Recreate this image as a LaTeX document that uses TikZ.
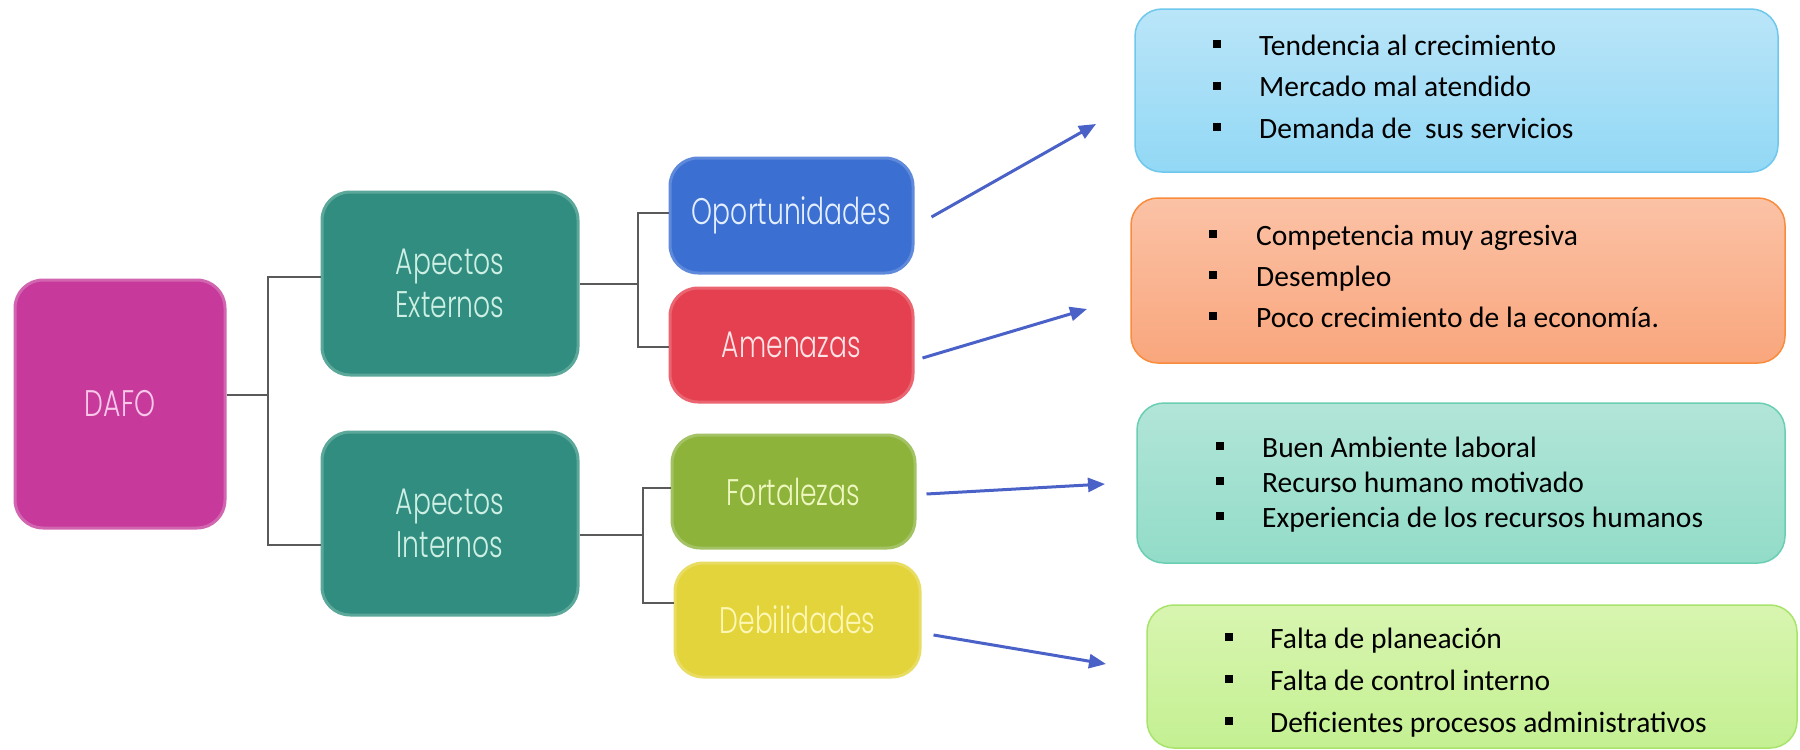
\documentclass[tikz,border=0pt]{standalone}
\usepackage{fontspec}
\setmainfont{Carlito}
\newfontfamily\boxfont{Poppins}[FakeStretch=0.72, UprightFont=* Light]
\usetikzlibrary{arrows.meta}

% box colours: fill, border, text
\definecolor{dafoF}{HTML}{C7399A}\definecolor{dafoB}{HTML}{D265B0}\definecolor{dafoT}{HTML}{F7C8EA}
\definecolor{apF}{HTML}{318D7F}\definecolor{apB}{HTML}{5BA89B}\definecolor{apT}{HTML}{CDEFE4}
\definecolor{opF}{HTML}{3C6FD2}\definecolor{opB}{HTML}{5F89DA}\definecolor{opT}{HTML}{E3EEFF}
\definecolor{amF}{HTML}{E5404F}\definecolor{amB}{HTML}{EA6570}\definecolor{amT}{HTML}{FCE4E6}
\definecolor{foF}{HTML}{8DB33B}\definecolor{foB}{HTML}{A3C264}\definecolor{foT}{HTML}{EEF7C0}
\definecolor{deF}{HTML}{E2D43A}\definecolor{deB}{HTML}{E8DD62}\definecolor{deT}{HTML}{FFF7B5}
% detail boxes: top, bottom, border
\definecolor{b1t}{HTML}{BAE5F8}\definecolor{b1b}{HTML}{92D8F5}\definecolor{b1d}{HTML}{6EC8EE}
\definecolor{b2t}{HTML}{FBC2A6}\definecolor{b2b}{HTML}{F9A67C}\definecolor{b2d}{HTML}{F98C3C}
\definecolor{b3t}{HTML}{B2E5D8}\definecolor{b3b}{HTML}{92DCC8}\definecolor{b3d}{HTML}{6ACFB2}
\definecolor{b4t}{HTML}{D8F5B0}\definecolor{b4b}{HTML}{C4F092}\definecolor{b4d}{HTML}{A8E46C}
\definecolor{connC}{HTML}{5A5A5A}
\definecolor{arrC}{HTML}{4A62C8}

% square bullet followed by the item gap
\newcommand\sqbul[1]{\makebox[#1][l]{\rule[7pt]{8pt}{8pt}}}

\begin{document}
\begin{tikzpicture}[x=1pt,y=-1pt,
  lbox/.style={rounded corners=28pt, line width=3pt, inner sep=0pt, align=center,
    font=\boxfont\fontsize{37}{43}\selectfont},
  rbox/.style={rounded corners=27pt, line width=1.5pt, inner sep=0pt},
  item/.style={inner sep=0pt, anchor=base west, font=\fontsize{29.5}{35}\selectfont, text=black},
  conn/.style={draw=connC, line width=2pt},
  arr/.style={draw=arrC, line width=3pt, -{Triangle[length=17pt,width=14pt]}}]

\useasboundingbox (0,0) rectangle (1800,750);
\fill[white] (0,0) rectangle (1800,750);

% tree of boxes
\node[lbox, fill=dafoF, draw=dafoB, text=dafoT, minimum width=210pt, minimum height=248pt] (dafo) at (120,404) {DAFO};
\node[lbox, fill=apF, draw=apB, text=apT, minimum width=256pt, minimum height=183pt] (ae) at (450,283.5) {Apectos\\Externos};
\node[lbox, fill=apF, draw=apB, text=apT, minimum width=256pt, minimum height=183pt] (ai) at (450,523.5) {Apectos\\Internos};
\node[lbox, fill=opF, draw=opB, text=opT, minimum width=243pt, minimum height=115pt] (opp) at (791.5,215.5) {Oportunidades};
\node[lbox, fill=amF, draw=amB, text=amT, minimum width=243pt, minimum height=114pt] (amen) at (791.5,345) {Amenazas};
\node[lbox, fill=foF, draw=foB, text=foT, minimum width=243pt, minimum height=113pt] (fort) at (793.5,491.5) {Fortalezas};
\node[lbox, fill=deF, draw=deB, text=deT, minimum width=245pt, minimum height=114pt] (deb) at (797.5,620) {Debilidades};

% bracket connectors
\coordinate (j1t) at (268,277); \coordinate (j1m) at (268,395); \coordinate (j1b) at (268,545);
\draw[conn] (ae.west |- j1t) -- (j1t) -- (j1b) -- (ai.west |- j1b);
\draw[conn] (dafo.east |- j1m) -- (j1m);
\coordinate (j2t) at (638,213); \coordinate (j2m) at (638,283.5); \coordinate (j2b) at (638,347);
\draw[conn] (opp.west |- j2t) -- (j2t) -- (j2b) -- (amen.west |- j2b);
\draw[conn] (ae.east |- j2m) -- (j2m);
\coordinate (j3t) at (643,488); \coordinate (j3m) at (643,535); \coordinate (j3b) at (643,603);
\draw[conn] (fort.west |- j3t) -- (j3t) -- (j3b) -- (deb.west |- j3b);
\draw[conn] (ai.east |- j3m) -- (j3m);

% detail boxes
\node[rbox, top color=b1t, bottom color=b1b, draw=b1d, minimum width=643pt, minimum height=163pt] (rb1) at (1456.5,90.5) {};
\node[rbox, top color=b2t, bottom color=b2b, draw=b2d, minimum width=654pt, minimum height=165pt] (rb2) at (1458,280.5) {};
\node[rbox, top color=b3t, bottom color=b3b, draw=b3d, minimum width=648pt, minimum height=160pt] (rb3) at (1461,483) {};
\node[rbox, top color=b4t, bottom color=b4b, draw=b4d, minimum width=650pt, minimum height=143pt] (rb4) at (1472,676.5) {};

% bullet items
\foreach \t [count=\i] in {Tendencia al crecimiento, Mercado mal atendido, Demanda de\ \ sus servicios}
  \node[item] (o\i) at (1213,{55+(\i-1)*41.5}) {\sqbul{46pt}\t};
\foreach \t [count=\i] in {Competencia muy agresiva, Desempleo, Poco crecimiento de la economía.}
  \node[item] (a\i) at (1209,{245+(\i-1)*41}) {\sqbul{47pt}\t};
\foreach \t [count=\i] in {Buen Ambiente laboral, Recurso humano motivado, Experiencia de los recursos humanos}
  \node[item] (f\i) at (1216,{457+(\i-1)*35}) {\sqbul{46pt}\t};
\foreach \t [count=\i] in {Falta de planeación, Falta de control interno, Deficientes procesos administrativos}
  \node[item] (d\i) at (1225,{648+(\i-1)*42}) {\sqbul{45pt}\t};

% arrows to the detail boxes
\coordinate (t1) at (1096,124);
\coordinate (t2) at (1087,309);
\coordinate (t3) at (1105,484);
\coordinate (t4) at (1106,664);
\draw[arr] ([xshift=17pt,yshift=-1.5pt]opp.east) -- (t1);
\draw[arr] ([xshift=8pt,yshift=-13pt]amen.east) -- (t2);
\draw[arr] ([xshift=10pt,yshift=-2.5pt]fort.east) -- (t3);
\draw[arr] ([xshift=12pt,yshift=-15pt]deb.east) -- (t4);
\end{tikzpicture}
\end{document}
